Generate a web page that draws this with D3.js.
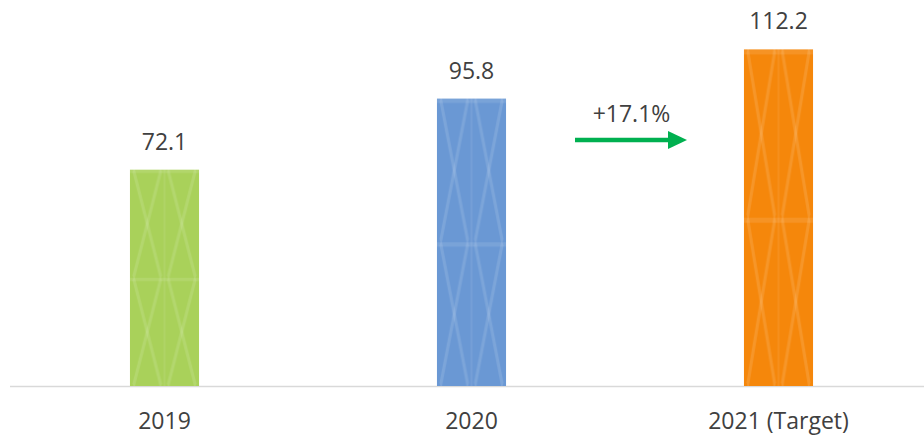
<!DOCTYPE html>
<html>
<head>
<meta charset="utf-8">
<script src="https://cdn.jsdelivr.net/npm/d3@7/dist/d3.min.js"></script>
<style>
  html, body { margin: 0; padding: 0; background: #fff; }
  svg { display: block; }
  text { font-family: "Open Sans", "Noto Sans", sans-serif; fill: #404040; }
</style>
</head>
<body>
<svg id="chart" width="924" height="435"></svg>
<script>
// Data
const categories = ["2019", "2020", "2021 (Target)"];
const values = [72.1, 95.8, 112.2];
const barColors = ["#a9d15a", "#6a98d4", "#f5870b"];
const growthLabel = "+17.1%";

const width = 924, height = 435;
const svg = d3.select("#chart");

const x = d3.scaleBand().domain(categories).range([11, 932]).padding(0);
const barW = x.bandwidth() * 0.225;
const y = d3.scaleLinear().domain([0, 120]).range([386, 26]);

// Subtle lattice texture, stretched over each bar (two tiles per bar)
const defs = svg.append("defs");
const blur = defs.append("filter").attr("id", "soft")
  .attr("x", 0).attr("y", 0).attr("width", 1).attr("height", 1);
blur.append("feGaussianBlur").attr("stdDeviation", 0.6);

categories.forEach((c, i) => {
  const p = defs.append("pattern")
    .attr("id", "tex" + i)
    .attr("patternUnits", "objectBoundingBox")
    .attr("patternContentUnits", "objectBoundingBox")
    .attr("width", 1).attr("height", 0.5);
  p.append("rect").attr("width", 1).attr("height", 0.5).attr("fill", barColors[i]);
  const g = p.append("g")
    .attr("stroke", "#ffffff").attr("stroke-opacity", 0.12)
    .attr("fill", "none").attr("stroke-width", 0.035);
  const segs = [
    [0.05, 0, 0.45, 0.5], [0.45, 0, 0.05, 0.5],
    [0.55, 0, 0.95, 0.5], [0.95, 0, 0.55, 0.5]
  ];
  segs.forEach(s => g.append("line")
    .attr("x1", s[0]).attr("y1", s[1]).attr("x2", s[2]).attr("y2", s[3]));
  p.append("line").attr("x1", 0.5).attr("x2", 0.5).attr("y1", 0).attr("y2", 0.5)
    .attr("stroke", "#ffffff").attr("stroke-opacity", 0.07).attr("stroke-width", 0.03);
  p.append("rect").attr("x", 0).attr("y", 0).attr("width", 1).attr("height", 0.015)
    .attr("fill", "#ffffff").attr("fill-opacity", 0.1);
});

// Baseline
svg.append("line")
  .attr("x1", 10).attr("x2", width)
  .attr("y1", y(0) + 0.5).attr("y2", y(0) + 0.5)
  .attr("stroke", "#d9d9d9").attr("stroke-width", 1.5);

// Bars
const cx = c => x(c) + x.bandwidth() / 2;
svg.selectAll("rect.bar")
  .data(categories)
  .join("rect")
  .attr("class", "bar")
  .attr("x", c => cx(c) - barW / 2)
  .attr("width", barW)
  .attr("y", (c, i) => y(values[i]))
  .attr("height", (c, i) => y(0) - y(values[i]))
  .attr("fill", (c, i) => `url(#tex${i})`);

// Value labels
svg.selectAll("text.val")
  .data(categories)
  .join("text")
  .attr("class", "val")
  .attr("x", c => cx(c))
  .attr("y", (c, i) => y(values[i]) - 20)
  .attr("text-anchor", "middle")
  .attr("font-size", 23)
  .text((c, i) => values[i].toFixed(1));

// Category labels
svg.selectAll("text.cat")
  .data(categories)
  .join("text")
  .attr("class", "cat")
  .attr("x", c => cx(c))
  .attr("y", 429)
  .attr("text-anchor", "middle")
  .attr("font-size", 23)
  .text(c => c);

// Growth arrow between 2020 and the target
const ax0 = 575, ax1 = 687, ay = 140;
svg.append("line")
  .attr("x1", ax0).attr("x2", ax1 - 18)
  .attr("y1", ay).attr("y2", ay)
  .attr("stroke", "#00b050").attr("stroke-width", 4.5);
svg.append("path")
  .attr("d", `M${ax1 - 19},${ay - 9} L${ax1},${ay} L${ax1 - 19},${ay + 9} Z`)
  .attr("fill", "#00b050");
svg.append("text")
  .attr("x", (ax0 + ax1) / 2 + 0.5)
  .attr("y", 122)
  .attr("text-anchor", "middle")
  .attr("font-size", 23)
  .text(growthLabel);
</script>
</body>
</html>
